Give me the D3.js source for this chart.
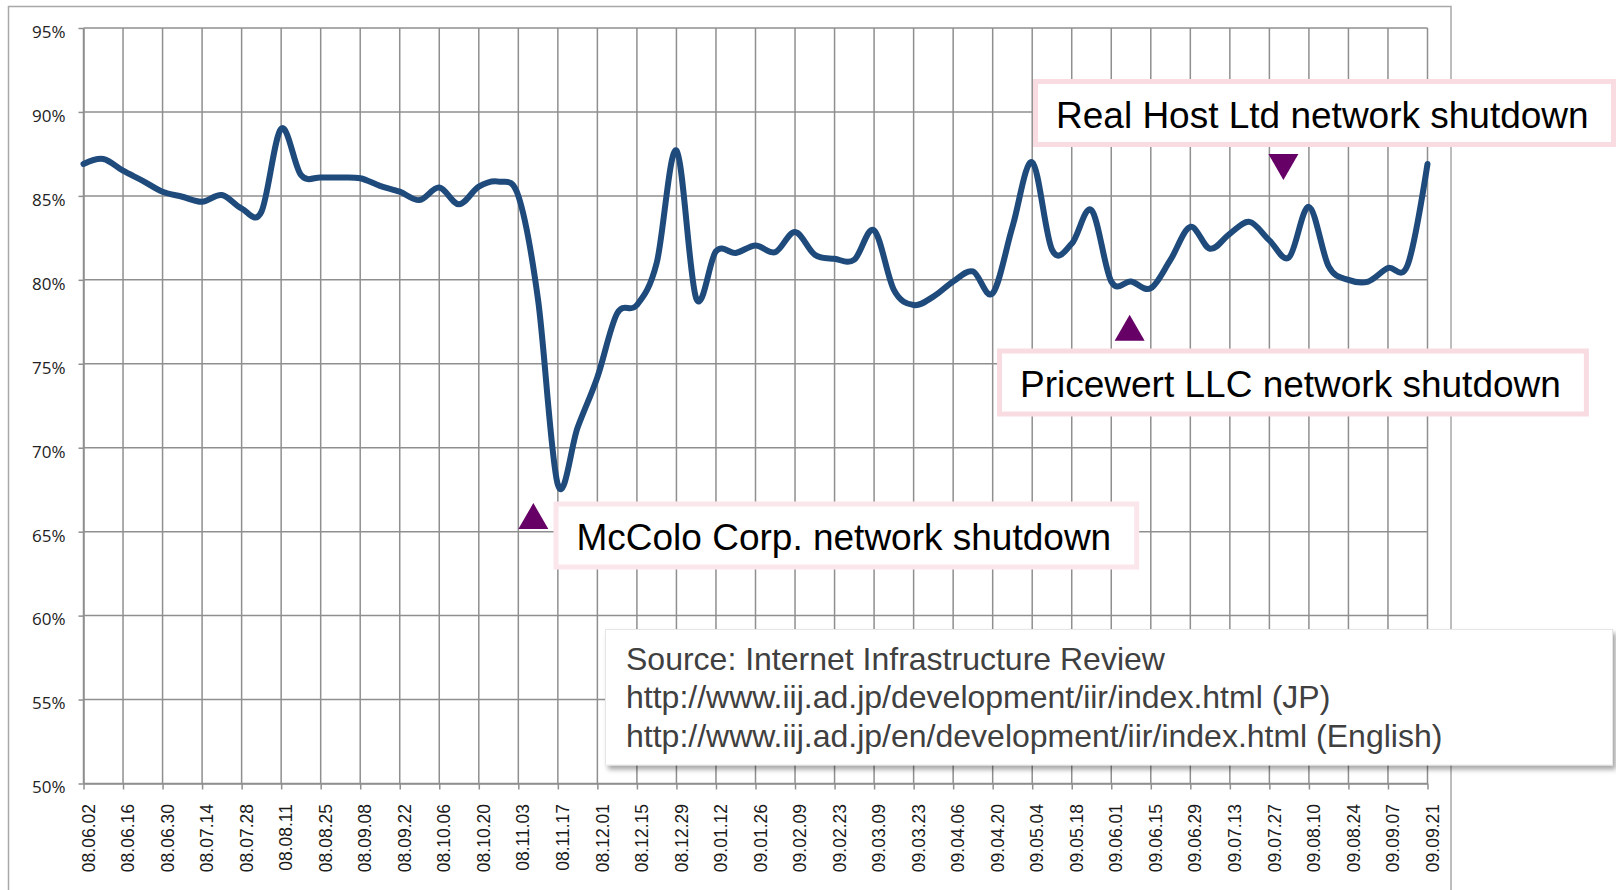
<!DOCTYPE html>
<html>
<head>
<meta charset="utf-8">
<script src="https://cdn.jsdelivr.net/npm/d3@7"></script>
<style>
  body { margin: 0; background: #fff; }
  svg { display: block; }
</style>
</head>
<body>
<div id="chart"></div>
<script>
// weekly dates (yy.mm.dd)
var weeks = [
  '08.06.02', '08.06.09', '08.06.16', '08.06.23', '08.06.30', '08.07.07', '08.07.14', '08.07.21',
  '08.07.28', '08.08.04', '08.08.11', '08.08.18', '08.08.25', '08.09.01', '08.09.08', '08.09.15',
  '08.09.22', '08.09.29', '08.10.06', '08.10.13', '08.10.20', '08.10.27', '08.11.03', '08.11.10',
  '08.11.17', '08.11.24', '08.12.01', '08.12.08', '08.12.15', '08.12.22', '08.12.29', '09.01.05',
  '09.01.12', '09.01.19', '09.01.26', '09.02.02', '09.02.09', '09.02.16', '09.02.23', '09.03.02',
  '09.03.09', '09.03.16', '09.03.23', '09.03.30', '09.04.06', '09.04.13', '09.04.20', '09.04.27',
  '09.05.04', '09.05.11', '09.05.18', '09.05.25', '09.06.01', '09.06.08', '09.06.15', '09.06.22',
  '09.06.29', '09.07.06', '09.07.13', '09.07.20', '09.07.27', '09.08.03', '09.08.10', '09.08.17',
  '09.08.24', '09.08.31', '09.09.07', '09.09.14', '09.09.21'
]

// share (%), one value per week
var share = [
  86.9, 87.2, 86.5, 85.9, 85.25, 84.95, 84.65, 85.05,
  84.25, 84.05, 89.0, 86.25, 86.1, 86.1, 86.05, 85.6,
  85.25, 84.75, 85.5, 84.5, 85.55, 85.85, 85.0, 78.8,
  67.8, 71.2, 74.2, 78.0, 78.5, 81.0, 87.7, 78.9,
  81.7, 81.6, 82.05, 81.65, 82.85, 81.5, 81.25, 81.2,
  82.95, 79.4, 78.5, 79.0, 79.9, 80.5, 79.2, 83.15,
  87.0, 81.8, 82.15, 84.15, 79.9, 79.9, 79.5, 81.2,
  83.15, 81.85, 82.75, 83.45, 82.35, 81.35, 84.35, 80.8,
  80.0, 79.9, 80.7, 80.9, 86.9
]

var yTicks = [50, 55, 60, 65, 70, 75, 80, 85, 90, 95]

// event markers: week position, level (%), direction
var eventNames = ['McColo Corp. network shutdown', 'Pricewert LLC network shutdown', 'Real Host Ltd network shutdown']
var eventWeek = [22.76, 52.93, 60.71]
var eventLevel = [65.93, 77.14, 86.72]
var eventDir = ['up', 'up', 'down']

var sourceLines = [
  'Source: Internet Infrastructure Review',
  'http://www.iij.ad.jp/development/iir/index.html (JP)',
  'http://www.iij.ad.jp/en/development/iir/index.html (English)'
]

var W = 1616
var H = 890
var plot = { left: 83.5, right: 1427.5, top: 28, bottom: 783.5 }

var svg = d3.select('#chart')
  .append('svg')
  .attr('width', W)
  .attr('height', H)

var defs = svg.append('defs')
var shadow = defs.append('filter').attr('id', 'shadow')
  .attr('x', '-5%').attr('y', '-10%').attr('width', '115%').attr('height', '130%')
shadow.append('feDropShadow')
  .attr('dx', 3).attr('dy', 4).attr('stdDeviation', 2.5)
  .attr('flood-color', '#000').attr('flood-opacity', 0.35)

// outer chart frame
svg.append('rect')
  .attr('x', 8.5).attr('y', 6.5)
  .attr('width', 1442.5).attr('height', 900)
  .attr('fill', 'none')
  .attr('stroke', '#a8a8a8')
  .attr('stroke-width', 1.5)

var x = d3.scaleLinear().domain([0, weeks.length - 1]).range([plot.left, plot.right])
var y = d3.scaleLinear().domain([50, 95]).range([plot.bottom, plot.top])

var labelIdx = d3.range(0, weeks.length, 2)

// grid
var grid = svg.append('g').attr('stroke', '#8f8f8f').attr('stroke-width', 1.5)
grid.selectAll('.hgrid')
  .data(yTicks)
  .enter()
  .append('line')
  .attr('x1', plot.left).attr('x2', plot.right)
  .attr('y1', d => y(d)).attr('y2', d => y(d))
grid.selectAll('.vgrid')
  .data(labelIdx)
  .enter()
  .append('line')
  .attr('x1', d => x(d)).attr('x2', d => x(d))
  .attr('y1', plot.top).attr('y2', plot.bottom)

// y axis
var yAxis = svg.append('g')
  .attr('transform', 'translate(' + plot.left + ',0)')
  .call(d3.axisLeft(y).tickValues(yTicks).tickSize(5).tickSizeOuter(0).tickPadding(13).tickFormat(d => d + '%'))
yAxis.selectAll('line, path').attr('stroke', '#8f8f8f').attr('stroke-width', 1.5)
yAxis.selectAll('text')
  .attr('font-family', '"Open Sans", sans-serif')
  .attr('font-size', '17px')
  .attr('fill', '#222')
  .attr('dy', '0.55em')

// x axis
var xAxis = svg.append('g')
  .attr('transform', 'translate(0,' + plot.bottom + ')')
  .call(d3.axisBottom(x).tickValues(labelIdx).tickSize(6).tickSizeOuter(0).tickFormat(i => weeks[i]))
xAxis.selectAll('line, path').attr('stroke', '#8f8f8f').attr('stroke-width', 1.5)
xAxis.selectAll('text')
  .attr('font-family', '"Liberation Sans", Arial, sans-serif')
  .attr('font-size', '17.5px')
  .attr('fill', '#1a1a1a')
  .attr('text-anchor', 'end')
  .attr('transform', 'rotate(-90)')
  .attr('x', -20.5)
  .attr('y', 4.5)
  .attr('dy', '0.35em')

// the line
var line = d3.line()
  .x((d, i) => x(i))
  .y(d => y(d))
  .curve(d3.curveCardinal.tension(0))

svg.append('path')
  .datum(share)
  .attr('d', line)
  .attr('fill', 'none')
  .attr('stroke', '#1f4a7c')
  .attr('stroke-width', 6)
  .attr('stroke-linejoin', 'round')
  .attr('stroke-linecap', 'round')

// event triangles
var events = eventNames.map((name, i) => ({ name: name, week: eventWeek[i], level: eventLevel[i], dir: eventDir[i] }))

svg.selectAll('.marker')
  .data(events)
  .enter()
  .append('path')
  .attr('d', function(d) {
    var cx = x(d.week)
    var cy = y(d.level)
    if (d.dir === 'up') {
      return 'M' + cx + ',' + (cy - 13) + 'L' + (cx + 15) + ',' + (cy + 13) + 'L' + (cx - 15) + ',' + (cy + 13) + 'Z'
    }
    return 'M' + (cx - 15) + ',' + (cy - 13) + 'L' + (cx + 15) + ',' + (cy - 13) + 'L' + cx + ',' + (cy + 13) + 'Z'
  })
  .attr('fill', '#660066')

// label boxes: left / top of the outer border
var boxPos = [
  { left: 553.5, top: 501.5, color: '#fbe6ec' },
  { left: 997, top: 348.5, color: '#f9dbe2' },
  { left: 1033, top: 79, color: '#f9dbe2' }
]

events.forEach(function(d, i) {
  var g = svg.append('g')
  var p = boxPos[i]
  var rect = g.append('rect')
  var t = g.append('text')
    .attr('x', p.left + 23)
    .attr('y', p.top + 48.5)
    .attr('font-family', '"Liberation Sans", Arial, sans-serif')
    .attr('font-size', '37px')
    .attr('fill', '#000')
    .text(d.name)
  var tw = t.node().getComputedTextLength()
  rect
    .attr('x', p.left + 2.5)
    .attr('y', p.top + 2.5)
    .attr('width', Math.min(tw + 51, W - p.left) - 5)
    .attr('height', 63)
    .attr('fill', '#fff')
    .attr('stroke', p.color)
    .attr('stroke-width', 5)
})

// source box
var src = svg.append('g')
src.append('rect')
  .attr('x', 605.5).attr('y', 629.5)
  .attr('width', 1007).attr('height', 135.5)
  .attr('fill', '#fff')
  .attr('stroke', '#e6e6e6')
  .attr('stroke-width', 1)
  .attr('filter', 'url(#shadow)')
src.selectAll('text')
  .data(sourceLines)
  .enter()
  .append('text')
  .attr('x', 626)
  .attr('y', (d, i) => 670 + i * 38.4)
  .attr('font-family', '"Liberation Sans", Arial, sans-serif')
  .attr('font-size', '32px')
  .attr('fill', '#404040')
  .text(d => d)
</script>
</body>
</html>
